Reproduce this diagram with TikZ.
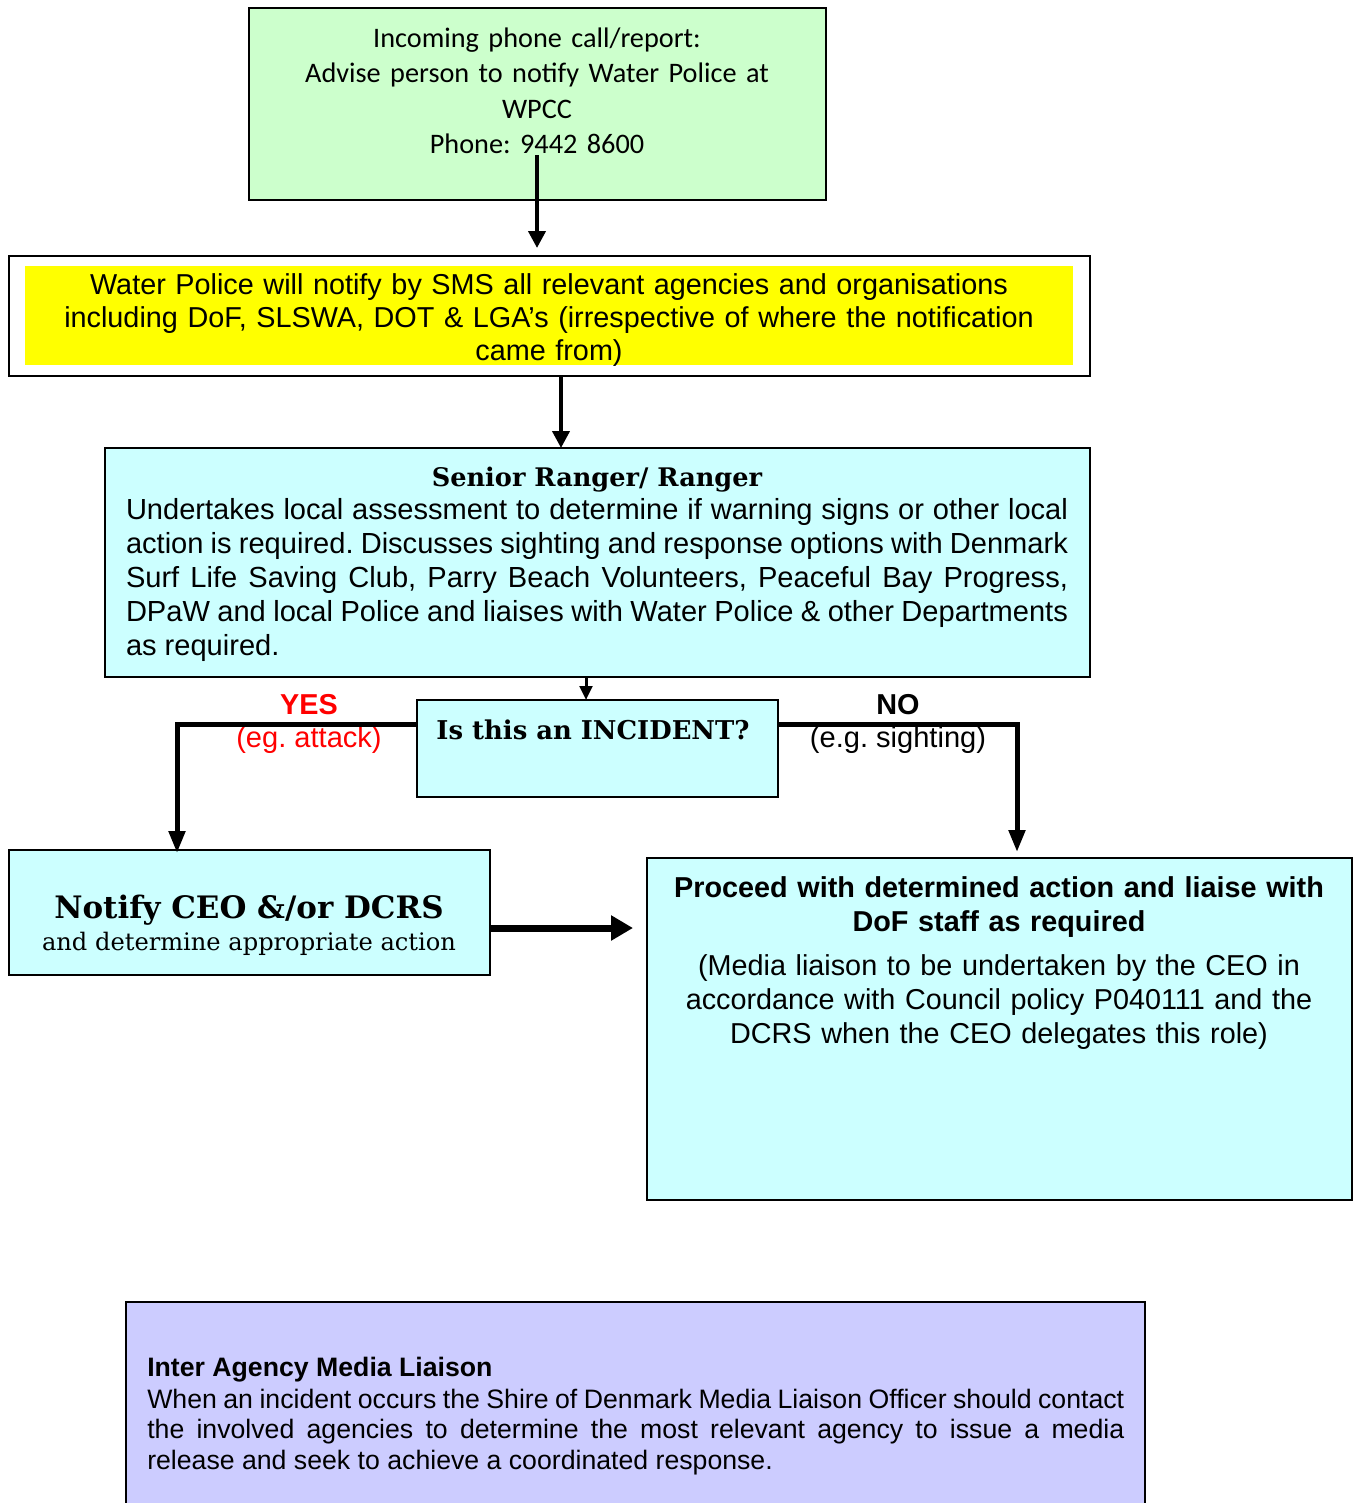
\documentclass[tikz,border=0pt]{standalone}
\usepackage{fontspec}
\setmainfont{Liberation Sans}
\newfontfamily\calib{Carlito}
\newfontfamily\slab{DejaVu Serif}
\usetikzlibrary{arrows.meta}
\definecolor{boxgreen}{HTML}{CCFFCC}
\definecolor{boxcyan}{HTML}{CCFFFF}
\definecolor{boxyellow}{HTML}{FFFF00}
\definecolor{boxlav}{HTML}{CCCCFF}
\definecolor{yesred}{HTML}{FF0000}
\frenchspacing
\begin{document}
\begin{tikzpicture}[x=0.75pt,y=-0.75pt,
  box/.style={draw=black, line width=1.1pt, inner sep=0pt, outer sep=0pt},
  txt/.style={inner sep=0pt, outer sep=0pt, font=\fontsize{21.8pt}{25.5pt}\selectfont},
  ctxt/.style={inner sep=0pt, outer sep=0pt, font=\fontsize{21.6pt}{25.5pt}\selectfont},
  btxt/.style={inner sep=0pt, outer sep=0pt, font=\bfseries\fontsize{21.6pt}{25.5pt}\selectfont},
  slabtxt/.style={inner sep=0pt, outer sep=0pt},
  conna/.style={line width=3pt, -{Triangle[length=12.75pt,width=12.75pt]}},
  connsmall/.style={line width=2.25pt, -{Triangle[length=10.5pt,width=9.5pt]}},
  connb/.style={line width=3.75pt, -{Triangle[length=16.5pt,width=12pt]}},
  connbig/.style={line width=5.25pt, -{Triangle[length=16.5pt,width=18pt]}}]
\useasboundingbox (0,0) rectangle (1357,1503);

% boxes
\node[box, fill=boxgreen, minimum width=432.75pt, minimum height=144pt] (call) at (537.5,104) {};
\node[box, fill=white, minimum width=810.75pt, minimum height=90pt] (sms) at (549.5,316) {};
\node[fill=boxyellow, inner sep=0pt, minimum width=786pt, minimum height=74.25pt] (smsfill) at (549,315.5) {};
\node[box, fill=boxcyan, minimum width=738.75pt, minimum height=171.75pt] (ranger) at (597.5,562.5) {};
\node[box, fill=boxcyan, minimum width=270.75pt, minimum height=72.75pt] (incident) at (597.5,748.5) {};
\node[box, fill=boxcyan, minimum width=360.75pt, minimum height=93.75pt] (notify) at (249.5,912.5) {};
\node[box, fill=boxcyan, minimum width=528.75pt, minimum height=256.5pt] (proceed) at (999.5,1029) {};
\node[box, fill=boxlav, minimum width=764.25pt, minimum height=159.75pt] (media) at (635.5,1408.5) {};

% texts
\node[inner sep=0pt, font=\calib\fontsize{21.2pt}{26.6pt}\selectfont, text width=420pt, align=center, anchor=base] (calltxt) at (537,47.5)
  {Incoming phone call/report:\\Advise person to notify Water Police at\\WPCC\\Phone: 9442 8600};
\node[ctxt, text width=786pt, align=center, anchor=base, font=\fontsize{21.6pt}{25.1pt}\selectfont] (smstxt) at (549,294)
  {Water Police will notify by SMS all relevant agencies and organisations\\including DoF, SLSWA, DOT \& LGA’s (irrespective of where the notification\\came from)};
\node[slabtxt, anchor=base, font=\slab\bfseries\fontsize{19.2pt}{21pt}\selectfont] (rangertitle) at (597,486) {Senior Ranger/ Ranger};
\node[txt, text width=706.5pt, align=justify, anchor=base west] (rangertxt) at (126,519)
  {Undertakes local assessment to determine if warning signs or other local\linebreak
   action is required. Discusses sighting and response options with Denmark\linebreak
   Surf Life Saving Club, Parry Beach Volunteers, Peaceful Bay Progress,\linebreak
   DPaW and local Police and liaises with Water Police \& other Departments\linebreak
   as required.};
\node[slabtxt, anchor=base, font=\slab\bfseries\fontsize{19.4pt}{21pt}\selectfont] (inctxt) at (593,739) {Is this an INCIDENT?};
\node[btxt, anchor=base, text=yesred] (yes) at (309,714) {YES};
\node[txt, anchor=base, text=yesred] (yesex) at (309,747) {(eg. attack)};
\node[btxt, anchor=base] (no) at (898,714) {NO};
\node[txt, anchor=base] (noex) at (898,747) {(e.g. sighting)};
\node[slabtxt, anchor=base, font=\slab\bfseries\fontsize{23.2pt}{25pt}\selectfont] (notifytitle) at (249,918) {Notify CEO \&/or DCRS};
\node[slabtxt, anchor=base, font=\slab\fontsize{18.1pt}{20pt}\selectfont] (notifytxt) at (249,950) {and determine appropriate action};
\node[btxt, text width=525pt, align=center, anchor=base] (proceedtitle) at (999,897)
  {Proceed with determined action and liaise with\\DoF staff as required};
\node[ctxt, text width=525pt, align=center, anchor=base] (proceedtxt) at (999,975)
  {(Media liaison to be undertaken by the CEO in\\accordance with Council policy P040111 and the\\DCRS when the CEO delegates this role)};
\node[inner sep=0pt, anchor=base west, font=\bfseries\fontsize{20pt}{22.9pt}\selectfont] (mediatitle) at (147,1376) {Inter Agency Media Liaison};
\node[inner sep=0pt, text width=732.75pt, align=justify, anchor=base west, font=\fontsize{20pt}{22.9pt}\selectfont] (mediatxt) at (147,1408)
  {When an incident occurs the Shire of Denmark Media Liaison Officer should contact\linebreak
   the involved agencies to determine the most relevant agency to issue a media\linebreak
   release and seek to achieve a coordinated response.};

% connectors
\coordinate (a1s) at (537,155);
\coordinate (a2x) at (561,0);
\coordinate (a3x) at (586,0);
\coordinate (yx) at (177,0);
\coordinate (nx) at (1017,0);
\coordinate (ly) at (0,724);
\coordinate (hy) at (0,928);
\draw[conna] (a1s) -- ([yshift=6pt]sms.north -| a1s);
\draw[conna] (sms.south -| a2x) -- (ranger.north -| a2x);
\draw[connsmall] (ranger.south -| a3x) -- (incident.north -| a3x);
\draw[connb] (incident.west |- ly) -| ([yshift=-2.25pt]notify.north -| yx);
\draw[connb] (incident.east |- ly) -| ([yshift=4.5pt]proceed.north -| nx);
\draw[connbig] (notify.east |- hy) -- ([xshift=-10.5pt]proceed.west |- hy);
\end{tikzpicture}
\end{document}
